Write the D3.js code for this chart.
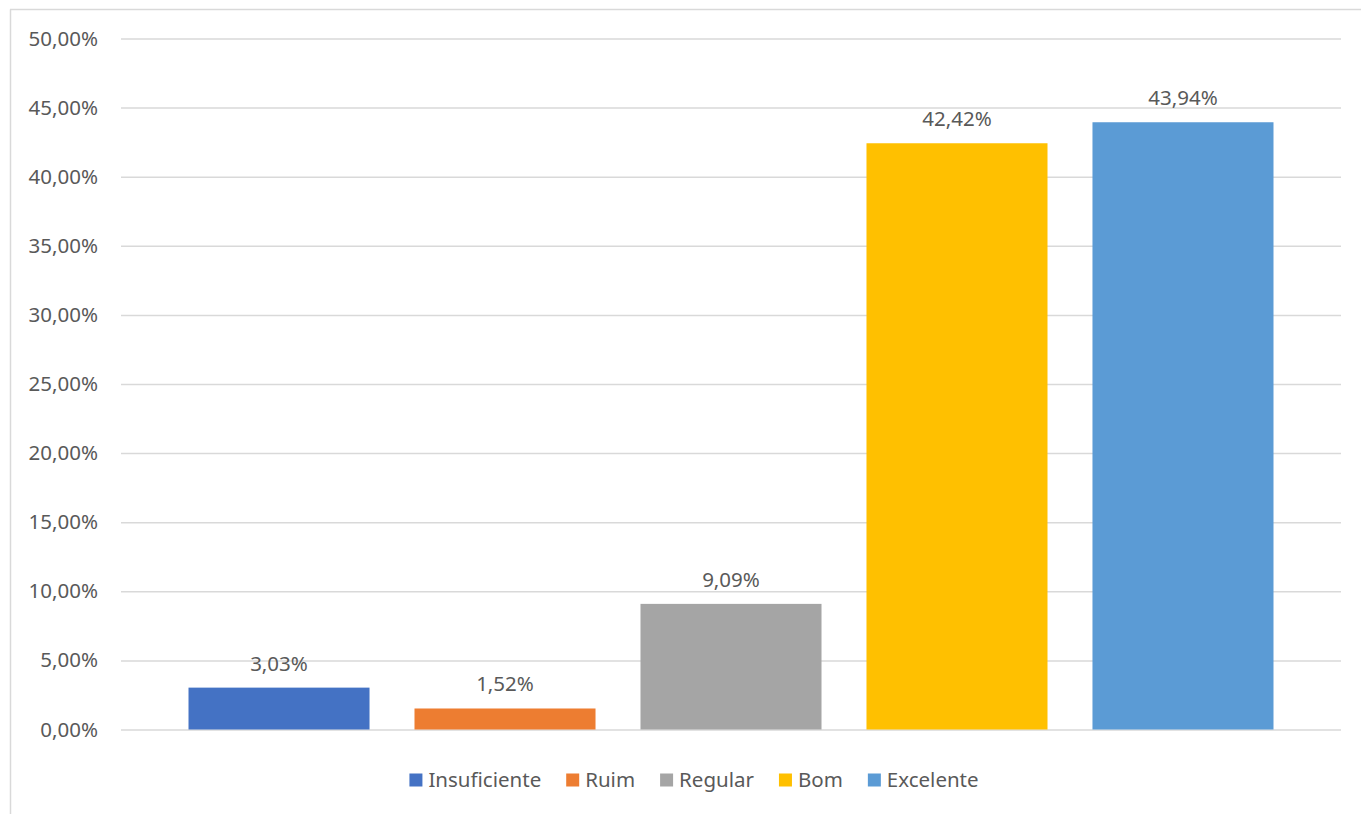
<!DOCTYPE html>
<html>
<head>
<meta charset="utf-8">
<script src="https://cdn.jsdelivr.net/npm/d3@7"></script>
<style>
  html, body { margin: 0; padding: 0; background: #fff; }
  svg { display: block; }
  text { font-family: "Noto Sans", "Open Sans", sans-serif; fill: #595959; }
</style>
</head>
<body>
<svg id="chart" width="1361" height="814"></svg>
<script>
const categories = ["Insuficiente", "Ruim", "Regular", "Bom", "Excelente"];
const values = [3.03, 1.52, 9.09, 42.42, 43.94];
const colors = ["#4472C4", "#ED7D31", "#A5A5A5", "#FFC000", "#5B9BD5"];
const yTicks = [0, 5, 10, 15, 20, 25, 30, 35, 40, 45, 50];

const fmt = v => v.toFixed(2).replace(".", ",") + "%";

const svg = d3.select("#chart");
const W = 1361, H = 814;

// chart area border (top & left visible)
svg.append("line").attr("x1", 10.5).attr("x2", 10.5).attr("y1", 9.5).attr("y2", H)
  .attr("stroke", "#D9D9D9").attr("stroke-width", 1.5);
svg.append("line").attr("x1", 10).attr("x2", W).attr("y1", 9.5).attr("y2", 9.5)
  .attr("stroke", "#D9D9D9").attr("stroke-width", 1.5);

const plot = { left: 121, right: 1341, top: 38.5, bottom: 729.5 };

const y = d3.scaleLinear().domain([0, 50]).range([plot.bottom, plot.top]);
const x = d3.scaleBand().domain(categories).range([plot.left, plot.right])
  .paddingInner(0.199).paddingOuter(0.2987);

// gridlines
const yAxis = d3.axisLeft(y).tickValues(yTicks).tickFormat(fmt)
  .tickSize(-(plot.right - plot.left)).tickPadding(23);
const gAxis = svg.append("g").attr("transform", `translate(${plot.left},0)`).call(yAxis);
gAxis.select(".domain").remove();
gAxis.selectAll(".tick line").attr("stroke", "#D9D9D9").attr("stroke-width", 1.5);
gAxis.selectAll(".tick text")
  .attr("font-size", "20.5px")
  .attr("font-family", "'Noto Sans', 'Open Sans', sans-serif")
  .attr("fill", "#595959");

// bars
svg.append("g").selectAll("rect").data(categories).join("rect")
  .attr("x", d => x(d))
  .attr("width", x.bandwidth())
  .attr("y", (d, i) => y(values[i]))
  .attr("height", (d, i) => y(0) - y(values[i]))
  .attr("fill", (d, i) => colors[i]);

// data labels
svg.append("g").selectAll("text").data(categories).join("text")
  .attr("x", d => x(d) + x.bandwidth() / 2)
  .attr("y", (d, i) => y(values[i]) - 17)
  .attr("text-anchor", "middle")
  .attr("font-size", "20.5px")
  .text((d, i) => fmt(values[i]));

// legend
const legend = svg.append("g");
const items = legend.selectAll("g").data(categories).join("g");
items.append("rect").attr("width", 13).attr("height", 13).attr("y", -6.5)
  .attr("fill", (d, i) => colors[i]);
items.append("text").attr("x", 19).attr("dy", "0.35em")
  .attr("font-size", "20.5px").text(d => d);
let pos = 0;
const positions = [];
items.each(function () {
  const tw = d3.select(this).select("text").node().getComputedTextLength();
  positions.push(pos);
  pos += 19 + tw + 25;
});
const total = pos - 25;
const startX = 694 - total / 2;
items.attr("transform", (d, i) => `translate(${startX + positions[i]},780)`);
</script>
</body>
</html>
